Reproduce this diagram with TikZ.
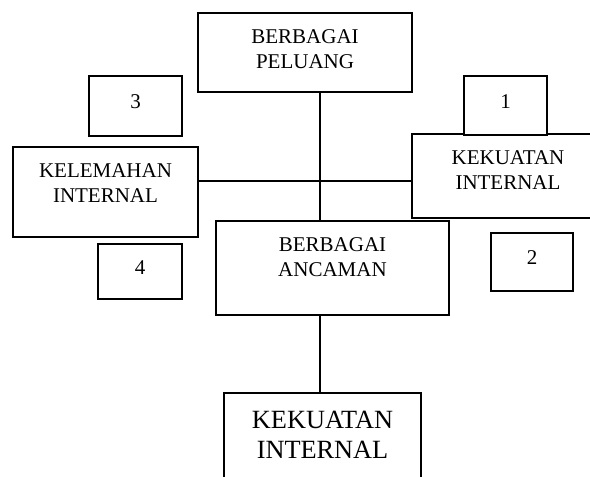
\documentclass[tikz,border=0pt]{standalone}
\usepackage{fontspec}
\setmainfont{Liberation Serif}
\usetikzlibrary{positioning}

\begin{document}
\begin{tikzpicture}[x=1pt, y=-1pt,
        box/.style={draw, line width=1.1pt, inner sep=0pt, font=\fontsize{21}{24.5}\selectfont},
        lbl/.style={anchor=north, align=center, inner sep=0pt, yshift=-17pt, font=\fontsize{21}{24.5}\selectfont},
        num/.style={box, text depth=8pt}
    ]
      \useasboundingbox (0,0) rectangle (590,477);
      \coordinate (cross) at (320,181);
      % Opportunities on top
      \node[box, minimum width=214pt, minimum height=79pt,
            label={[lbl]north:{BERBAGAI\\PELUANG}}] (peluang) at (305,52.5) {};
      % Weakness on the left
      \node[box, minimum width=185pt, minimum height=90pt,
            label={[lbl]north:{KELEMAHAN\\INTERNAL}}] (kelemahan) at (105.5,192) {};
      % Strength on the right
      \node[box, minimum width=192pt, minimum height=84pt,
            label={[lbl]north:{KEKUATAN\\INTERNAL}}] (kekuatan) at (508,176) {};
      % Threats below
      \node[box, minimum width=233pt, minimum height=94pt,
            label={[lbl]north:{BERBAGAI\\ANCAMAN}}] (ancaman) at (332.5,268) {};
      % Bottom box
      \node[box, minimum width=197pt, minimum height=107pt,
            label={[lbl, yshift=-1pt, font=\fontsize{26.3}{30}\selectfont]north:{KEKUATAN\\INTERNAL}}] (hasil) at (322.5,446.5) {};
      % Quadrant numbers
      \node[num, minimum width=93pt, minimum height=60pt] (tiga) at (135.5,106) {3};
      \node[num, minimum width=83pt, minimum height=59pt, fill=white] (satu) at (505.5,105.5) {1};
      \node[num, minimum width=84pt, minimum height=55pt] (empat) at (140,271.5) {4};
      \node[num, minimum width=82pt, minimum height=58pt] (dua) at (532,262) {2};
      % Axes
      \draw[line width=1.1pt] (peluang.south -| cross) -- (ancaman.north -| cross);
      \draw[line width=1.1pt] (kelemahan.east |- cross) -- (kekuatan.west |- cross);
      \draw[line width=1.1pt] (ancaman.south -| cross) -- (hasil.north -| cross);
    \end{tikzpicture}
\end{document}
